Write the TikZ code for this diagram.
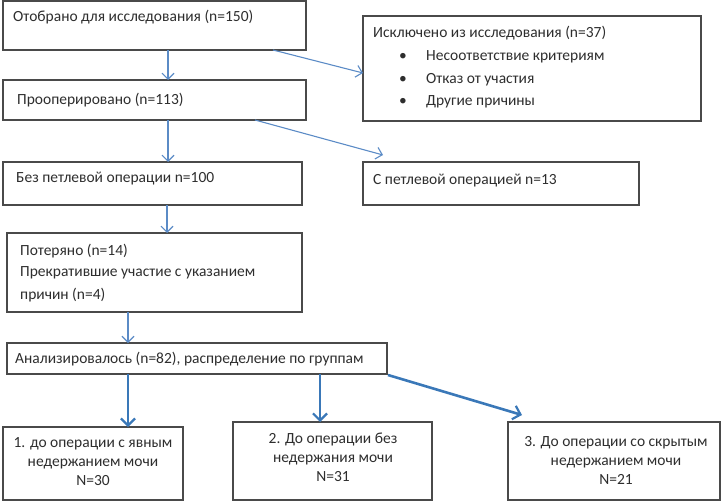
\documentclass[tikz,border=0pt]{standalone}
\usepackage{fontspec}
\setmainfont{Carlito}
\usetikzlibrary{arrows.meta,calc}
\definecolor{boxline}{HTML}{4A4A4A}
\definecolor{txtcol}{HTML}{2E2E2E}
\definecolor{arrowblue}{HTML}{5B8BC6}
\definecolor{arrowdark}{HTML}{3A78B8}
\tikzset{
  box/.style={draw=boxline, line width=1.3pt, fill=white, inner sep=0pt, outer sep=0pt, anchor=north west},
  txt/.style={text=txtcol, inner sep=0pt, font=\fontsize{15.5}{22}\selectfont},
  ctxt/.style={txt, align=center, font=\fontsize{15.5}{19}\selectfont},
  arr/.style={draw=arrowblue, line width=1.1pt, -{Straight Barb[length=6pt,width=12pt,line width=1.1pt]}},
  arrthick/.style={draw=arrowdark, line width=2.6pt, -{Straight Barb[length=7pt,width=14pt,line width=2.2pt]}}
}
\begin{document}
\begin{tikzpicture}[x=1pt,y=-1pt]
\useasboundingbox (0,0) rectangle (724,503);
% boxes
\node[box, minimum width=303pt, minimum height=49pt] (b1) at (3,1) {};
\node[box, minimum width=303pt, minimum height=40pt] (b2) at (3,80) {};
\node[box, minimum width=299pt, minimum height=43pt] (b3) at (3,162) {};
\node[box, minimum width=338pt, minimum height=105pt] (excl) at (363,16) {};
\node[box, minimum width=276pt, minimum height=43pt] (loop) at (363,162) {};
\node[box, minimum width=295pt, minimum height=79pt] (lost) at (7,233) {};
\node[box, minimum width=380pt, minimum height=31pt] (anal) at (7,343) {};
\node[box, minimum width=180pt, minimum height=73pt] (g1) at (3,427) {};
\node[box, minimum width=199pt, minimum height=78pt] (g2) at (233,422) {};
\node[box, minimum width=212pt, minimum height=78pt] (g3) at (508,422) {};
% texts
\node[txt, anchor=west] (t1) at (13,17) {Отобрано для исследования (n=150)};
\node[txt, anchor=west] (t2) at (17,100) {Прооперировано (n=113)};
\node[txt, anchor=west] (t3) at (16,179) {Без петлевой операции n=100};
\node[txt, anchor=west] (te) at (373,33) {Исключено из исследования (n=37)};
\node[txt, anchor=center] (be1) at (403,57) {•};
\node[txt, anchor=center] (be2) at (403,80) {•};
\node[txt, anchor=center] (be3) at (403,102) {•};
\node[txt, anchor=west] (te1) at (426,57) {Несоответствие критериям};
\node[txt, anchor=west] (te2) at (426,80) {Отказ от участия};
\node[txt, anchor=west] (te3) at (426,102) {Другие причины};
\node[txt, anchor=west] (tl) at (373,181) {С петлевой операцией n=13};
\node[txt, anchor=west] (tp1) at (20,251) {Потеряно (n=14)};
\node[txt, anchor=west] (tp2) at (20,273) {Прекратившие участие с указанием};
\node[txt, anchor=west] (tp3) at (20,295) {причин (n=4)};
\node[txt, anchor=west] (ta) at (15,359) {Анализировалось (n=82), распределение по группам};
\node[ctxt] (tg1) at (93,462) {1. до операции с явным\\недержанием мочи\\N=30};
\node[ctxt] (tg2) at (333,457) {2. До операции без\\недержания мочи\\N=31};
\node[ctxt] (tg3) at (616,460) {3. До операции со скрытым\\недержанием мочи\\N=21};
% connector end points
\coordinate (ltip) at ($(loop.north west)+(20,-7)$);
\coordinate (gtip) at ($(g3.north west)+(14,-7)$);
\coordinate (astart) at ($(anal.south east)+(1,1)$);
% connectors
\draw[arr] (b1.south -| 168,0) -- (b2.north -| 168,0);
\draw[arr] (b1.south -| 273,0) -- (excl.west |- 0,73);
\draw[arr] (b2.south -| 255,0) -- (ltip);
\draw[arr] (b2.south -| 168,0) -- (b3.north -| 168,0);
\draw[arr] (b3.south -| 167,0) -- (lost.north -| 167,0);
\draw[arr] (lost.south -| 128,0) -- (anal.north -| 128,0);
\draw[arrthick] (anal.south -| 128,0) -- (g1.north -| 128,0);
\draw[arrthick] (anal.south -| 320,0) -- (g2.north -| 320,0);
\draw[arrthick] (astart) -- (gtip);
\end{tikzpicture}
\end{document}
